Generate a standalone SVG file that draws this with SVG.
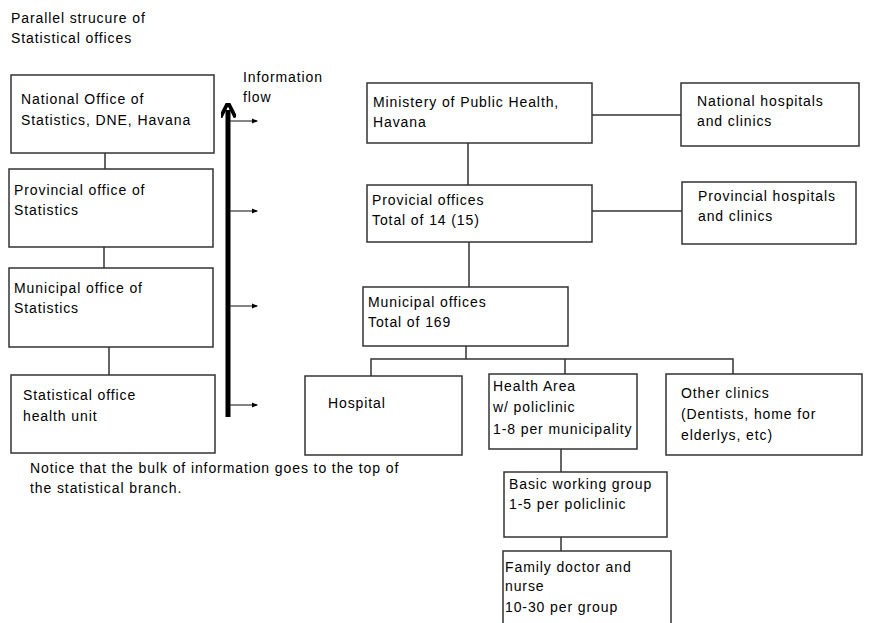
<svg xmlns="http://www.w3.org/2000/svg" width="869" height="623" viewBox="0 0 869 623">
  <style>
    text { font-family: "Liberation Sans", Arial, sans-serif; font-size: 14px; letter-spacing: 0.9px; fill: #000; }
    .box { fill: #fff; stroke: #333; stroke-width: 1.5; }
    .link { fill: none; stroke: #333; stroke-width: 1.5; }
    .flow { fill: none; stroke: #000; stroke-width: 5; }
    .tick { fill: none; stroke: #333; stroke-width: 1.2; }
  </style>
  <defs>
    <marker id="head" viewBox="0 0 10 10" refX="5" refY="5" markerWidth="3" markerHeight="3" orient="auto">
      <path d="M0,0 L10,5 L0,10" fill="none" stroke="#000" stroke-width="2.5"/>
    </marker>
    <marker id="tip" viewBox="0 0 6 6" refX="5" refY="3" markerWidth="6" markerHeight="6" markerUnits="userSpaceOnUse" orient="auto">
      <path d="M0,0.5 L6,3 L0,5.5 Z" fill="#000"/>
    </marker>
  </defs>

  <!-- headings -->
  <text x="11" y="23">Parallel strucure of</text>
  <text x="11" y="43">Statistical offices</text>
  <text x="243" y="82">Information</text>
  <text x="243" y="102">flow</text>
  <text x="30" y="473">Notice that the bulk of information goes to the top of</text>
  <text x="30" y="493">the statistical branch.</text>

  <!-- connectors -->
  <g id="connectors">
    <path class="link" d="M105,153 V169 M104,247 V268 M109,347 V375"/>
    <path class="flow" d="M228,417 V110" marker-end="url(#head)"/>
    <path class="tick" d="M230,121 H257" marker-end="url(#tip)"/>
    <path class="tick" d="M230,211 H257" marker-end="url(#tip)"/>
    <path class="tick" d="M230,306 H257" marker-end="url(#tip)"/>
    <path class="tick" d="M230,405 H257" marker-end="url(#tip)"/>
    <path class="link" d="M592,115 H681 M592,211 H682 M468,143 V185 M469,242 V287"/>
    <path class="link" d="M466,346 V359 M371,376 V359 H733 V374 M565,359 V374"/>
    <path class="link" d="M561,449 V472 M561,537 V551"/>
  </g>

  <!-- statistical branch -->
  <g id="dne">
    <rect class="box" x="11" y="75" width="203" height="78"/>
    <text x="21" y="104">National Office of</text>
    <text x="21" y="125">Statistics, DNE, Havana</text>
  </g>
  <g id="prov-stat">
    <rect class="box" x="9" y="169" width="204" height="78"/>
    <text x="14" y="195">Provincial office of</text>
    <text x="14" y="215">Statistics</text>
  </g>
  <g id="mun-stat">
    <rect class="box" x="9" y="268" width="204" height="79"/>
    <text x="14" y="293">Municipal office of</text>
    <text x="14" y="313">Statistics</text>
  </g>
  <g id="health-unit">
    <rect class="box" x="11" y="375" width="204" height="78"/>
    <text x="23" y="400">Statistical office</text>
    <text x="23" y="421">health unit</text>
  </g>

  <!-- health branch -->
  <g id="ministry">
    <rect class="box" x="367" y="83" width="225" height="60"/>
    <text x="373" y="107">Ministery of Public Health,</text>
    <text x="373" y="127">Havana</text>
  </g>
  <g id="national-hospitals">
    <rect class="box" x="681" y="83" width="178" height="63"/>
    <text x="697" y="106">National hospitals</text>
    <text x="697" y="126">and clinics</text>
  </g>
  <g id="provincial-offices">
    <rect class="box" x="367" y="185" width="225" height="57"/>
    <text x="372" y="205">Provicial offices</text>
    <text x="372" y="225">Total of 14 (15)</text>
  </g>
  <g id="provincial-hospitals">
    <rect class="box" x="682" y="182" width="174" height="62"/>
    <text x="698" y="201">Provincial hospitals</text>
    <text x="698" y="221">and clinics</text>
  </g>
  <g id="municipal-offices">
    <rect class="box" x="363" y="287" width="205" height="59"/>
    <text x="368" y="307">Municipal offices</text>
    <text x="368" y="327">Total of 169</text>
  </g>
  <g id="hospital">
    <rect class="box" x="305" y="376" width="157" height="79"/>
    <text x="328" y="408">Hospital</text>
  </g>
  <g id="health-area">
    <rect class="box" x="489" y="374" width="148" height="75"/>
    <text x="493" y="391">Health Area</text>
    <text x="493" y="412">w/ policlinic</text>
    <text x="493" y="434">1-8 per municipality</text>
  </g>
  <g id="other-clinics">
    <rect class="box" x="666" y="374" width="196" height="81"/>
    <text x="681" y="398">Other clinics</text>
    <text x="681" y="419">(Dentists, home for</text>
    <text x="681" y="440">elderlys, etc)</text>
  </g>
  <g id="working-group">
    <rect class="box" x="504" y="472" width="163" height="65"/>
    <text x="509" y="489">Basic working group</text>
    <text x="509" y="509">1-5 per policlinic</text>
  </g>
  <g id="family-doctor">
    <rect class="box" x="503" y="551" width="168" height="80"/>
    <text x="505" y="572">Family doctor and</text>
    <text x="505" y="591">nurse</text>
    <text x="505" y="612">10-30 per group</text>
  </g>
</svg>
